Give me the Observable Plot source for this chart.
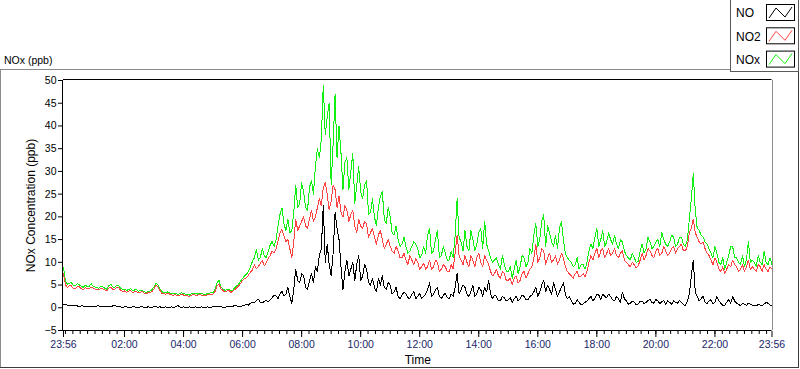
<!DOCTYPE html>
<html>
<head>
<meta charset="utf-8">
<script src="https://cdn.jsdelivr.net/npm/d3@7"></script>
<script src="https://cdn.jsdelivr.net/npm/@observablehq/plot@0.6"></script>
<style>
  html, body { margin: 0; padding: 0; background: #fff; }
  #wrap { position: relative; width: 800px; height: 369px; overflow: hidden; font-family: "Liberation Sans", Arial, sans-serif; }
  #bg, #chart { position: absolute; left: 0; top: 0; }
  #chart svg { display: block; }
</style>
</head>
<body>
<div id="wrap">
  <svg id="bg" width="800" height="369"></svg>
  <div id="chart"></div>
</div>
<script>
// ---------------- data ----------------
const chartTitle = "NOx (ppb)";
const yTitle = "NOx Concentration (ppb)";
const xTitle = "Time";
const seriesNames = ["NO", "NO2", "NOx"];
const seriesColors = ["#000000", "#ff4343", "#12f012"];

const startTime = "23:56";   // first sample (previous day)
const stepMinutes = 8;       // interval of each array; the "_b" arrays are read 4 min after the "_a" ones
const spanMinutes = 1440;

// NO (ppb)
const noA = [
  0.8, 0.6, 0.5, 0.5, 0.3, 0.4, 0.2, 0.3, 0.3, 0.4,
  0.2, 0.3, 0.3, 0.5, 0.2, 0.1, 0.2, 0.1, 0.2, 0.1,
  0.2, 0.1, 0.1, 0.2, 0.1, 0.1, 0.2, 0.1, 0.1, 0.5,
  0.1, 0.1, 0.2, 0.1, 0.1, 0.2, 0.1, 0.1, 0.2, 0.4,
  0.2, 0.1, 0.2, 0.3, 0.4, 0.3, 0.5, 0.6, 1.2, 1.6,
  1.2, 1.4, 1.3, 2.2, 2.6, 3.1, 2.6, 4.5, 1.0, 8.5,
  5.5, 7.0, 4.0, 7.5, 9.0, 11.5, 22.5, 14.0, 7.0, 21.0,
  15.0, 4.0, 10.5, 8.5, 6.0, 11.5, 7.0, 8.5, 5.0, 4.5,
  6.5, 7.0, 4.0, 5.0, 3.5, 2.5, 2.8, 3.0, 2.0, 3.5,
  2.5, 2.0, 3.0, 5.5, 3.0, 4.5, 2.0, 3.2, 2.0, 2.5,
  7.5, 4.0, 4.5, 2.5, 5.0, 3.0, 4.0, 4.5, 6.0, 2.0,
  2.5, 1.5, 2.2, 1.8, 1.2, 2.5, 2.0, 2.5, 1.8, 2.8,
  4.5, 3.5, 6.0, 5.0, 3.0, 4.0, 3.5, 5.5, 2.0, 1.5,
  1.0, 1.2, 0.8, 1.5, 2.5, 2.0, 2.8, 3.0, 2.2, 2.5,
  1.5, 2.0, 3.4, 1.5, 1.0, 1.2, 0.8, 1.5, 1.2, 1.8,
  1.0, 1.5, 1.3, 0.8, 1.2, 1.5, 1.0, 1.2, 0.5, 3.0,
  10.5, 2.5, 2.0, 1.2, 1.5, 0.8, 2.5, 1.0, 0.6, 1.8,
  2.5, 1.0, 0.5, 0.8, 1.0, 0.6, 0.4, 0.6, 0.8, 1.0, 0.5
];
const noB = [
  0.7, 0.5, 0.6, 0.4, 0.4, 0.3, 0.3, 0.2, 0.4, 0.3,
  0.3, 0.2, 0.4, 0.3, 0.2, 0.2, 0.1, 0.2, 0.1, 0.2,
  0.1, 0.2, 0.1, 0.2, 0.2, 0.1, 0.1, 0.2, 0.2, 0.2,
  0.2, 0.1, 0.1, 0.2, 0.1, 0.1, 0.2, 0.1, 0.3, 0.2,
  0.1, 0.2, 0.2, 0.5, 0.2, 0.4, 0.8, 1.0, 1.1, 1.9,
  1.1, 1.6, 1.8, 2.8, 2.0, 3.6, 3.0, 2.5, 4.0, 6.0,
  7.5, 4.5, 6.0, 5.5, 8.0, 13.0, 10.0, 9.5, 12.0, 17.5,
  9.0, 8.0, 7.0, 10.0, 9.5, 6.0, 9.5, 5.5, 6.5, 3.5,
  5.0, 4.5, 5.5, 3.0, 4.5, 2.0, 3.5, 2.2, 3.0, 2.0,
  3.2, 2.5, 4.0, 2.5, 4.0, 2.5, 2.8, 2.2, 3.0, 4.5,
  3.0, 5.0, 3.0, 3.5, 2.5, 4.5, 2.5, 3.5, 3.0, 2.8,
  1.5, 2.5, 1.5, 2.2, 2.0, 1.5, 2.8, 1.8, 2.5, 3.5,
  2.5, 5.0, 3.5, 4.0, 5.5, 2.5, 4.5, 3.0, 2.5, 0.8,
  1.8, 0.6, 1.2, 2.0, 1.5, 3.0, 1.8, 2.5, 3.0, 1.8,
  2.5, 1.2, 2.0, 0.8, 1.5, 0.7, 1.4, 0.9, 1.6, 1.2,
  1.8, 0.9, 1.6, 1.5, 0.8, 1.2, 1.6, 0.7, 1.5, 7.0,
  3.5, 1.5, 2.5, 0.9, 1.8, 1.2, 1.5, 0.5, 1.2, 1.0,
  1.5, 0.7, 0.9, 0.5, 0.8, 0.4, 0.7, 0.5, 1.2, 0.6
];

// NO2 (ppb)
const no2A = [
  7.5, 4.5, 4.8, 4.2, 4.6, 4.0, 4.3, 4.6, 4.1, 3.9,
  4.2, 3.7, 4.5, 4.0, 4.4, 3.6, 3.4, 3.8, 3.5, 3.3,
  3.6, 3.1, 3.4, 4.2, 4.6, 3.2, 3.0, 3.0, 2.8, 2.6,
  3.0, 2.7, 2.5, 2.9, 2.7, 2.8, 2.6, 2.9, 3.0, 4.8,
  4.2, 3.5, 3.8, 3.6, 4.4, 5.4, 6.4, 7.2, 8.3, 8.6,
  9.8, 9.2, 10.8, 12.5, 13.0, 16.5, 15.8, 15.0, 11.0, 19.5,
  18.0, 20.0, 17.5, 21.5, 20.0, 24.0, 26.5, 25.0, 23.5, 26.0,
  24.5, 20.0, 21.5, 20.5, 18.0, 19.5, 17.5, 18.5, 16.5, 15.5,
  16.0, 15.0, 14.0, 13.5, 12.0, 12.5, 11.0, 10.5, 11.5, 9.5,
  10.0, 9.0, 8.5, 10.5, 9.0, 10.0, 8.5, 9.0, 8.0, 8.5,
  16.0, 10.5, 11.5, 9.0, 10.5, 11.0, 10.0, 11.5, 9.5, 7.0,
  8.5, 6.5, 7.5, 6.0, 5.0, 7.0, 6.0, 8.0, 7.5, 9.0,
  14.0, 11.0, 12.5, 11.0, 10.0, 11.5, 10.5, 11.0, 8.0, 7.0,
  7.5, 6.8, 7.5, 8.0, 11.5, 12.0, 11.0, 13.0, 12.0, 11.5,
  13.0, 11.0, 12.5, 10.0, 9.0, 9.5, 9.2, 12.0, 11.5, 12.5,
  11.0, 13.0, 12.0, 12.5, 12.0, 13.5, 13.0, 14.0, 12.5, 16.5,
  19.5, 15.5, 14.0, 13.0, 11.5, 9.5, 10.0, 8.0, 7.5, 9.5,
  10.5, 9.0, 8.5, 8.0, 10.5, 9.0, 8.0, 9.0, 9.5, 8.0, 8.5
];
const no2B = [
  5.0, 4.9, 4.3, 4.7, 4.2, 4.4, 4.1, 4.3, 4.0, 4.3,
  3.9, 4.3, 4.1, 4.5, 3.9, 3.7, 3.6, 3.4, 3.6, 3.4,
  3.2, 3.3, 3.6, 5.0, 3.8, 3.1, 3.2, 2.8, 2.9, 2.8,
  2.8, 2.6, 2.8, 2.8, 2.9, 2.7, 2.8, 3.0, 3.6, 5.2,
  3.8, 3.7, 3.4, 4.0, 4.8, 6.0, 6.6, 7.8, 9.5, 9.0,
  10.4, 9.9, 11.5, 12.0, 14.8, 17.2, 14.5, 13.0, 14.5, 17.0,
  19.0, 18.0, 19.5, 19.0, 22.0, 22.5, 27.5, 21.5, 27.0, 22.0,
  21.0, 22.5, 19.0, 21.5, 16.5, 18.0, 19.0, 15.5, 17.5, 14.0,
  17.0, 13.0, 15.0, 12.5, 13.5, 11.0, 12.0, 9.5, 10.5, 10.8,
  8.5, 9.8, 9.0, 8.5, 10.5, 8.0, 9.5, 8.0, 9.5, 12.0,
  11.5, 9.5, 10.0, 11.5, 9.0, 12.0, 9.0, 10.5, 8.0, 7.5,
  7.0, 8.0, 6.0, 6.5, 6.5, 5.5, 7.5, 6.5, 8.5, 11.0,
  10.0, 13.0, 9.5, 12.0, 10.5, 9.5, 12.0, 9.0, 7.5, 6.5,
  8.0, 7.0, 6.8, 10.0, 10.5, 13.0, 12.5, 11.0, 13.0, 12.0,
  11.5, 12.0, 10.5, 9.5, 10.0, 8.8, 10.5, 10.5, 13.0, 11.5,
  12.5, 11.5, 13.5, 11.5, 13.0, 12.0, 13.5, 12.5, 13.5, 17.5,
  16.5, 14.5, 14.5, 12.0, 10.5, 11.0, 8.5, 9.0, 8.5, 9.0,
  9.5, 8.0, 9.5, 9.0, 8.5, 8.5, 9.5, 8.0, 8.5, 9.0
];

// NOx (ppb)
const noxA = [
  8.8, 5.2, 5.6, 4.8, 5.1, 4.5, 4.7, 5.3, 4.6, 4.3,
  4.6, 4.1, 5.2, 4.5, 4.9, 4.0, 3.8, 4.2, 3.9, 3.6,
  3.9, 3.4, 3.7, 4.6, 5.0, 3.5, 3.3, 3.3, 3.1, 2.9,
  3.3, 3.0, 2.8, 3.2, 3.0, 3.1, 2.9, 3.2, 3.3, 5.5,
  4.6, 3.8, 4.1, 3.9, 4.8, 5.9, 7.0, 8.0, 10.2, 12.8,
  11.0, 11.5, 12.3, 14.6, 15.0, 20.5, 18.5, 19.5, 17.0, 27.0,
  23.0, 25.5, 21.5, 28.0, 31.0, 33.0, 49.0, 42.0, 27.0, 47.0,
  40.0, 26.0, 33.0, 30.0, 23.0, 31.0, 24.0, 28.0, 21.0, 20.0,
  22.0, 25.5, 18.5, 20.0, 16.0, 15.0, 14.0, 13.5, 12.5, 14.5,
  13.0, 11.5, 12.0, 17.5, 12.5, 17.0, 11.5, 12.0, 10.5, 11.0,
  24.0, 14.5, 17.0, 12.5, 15.0, 14.0, 17.5, 19.0, 12.5, 10.0,
  11.0, 8.5, 9.5, 8.0, 6.5, 10.5, 9.0, 11.0, 10.0, 12.0,
  18.5, 15.0, 20.5, 18.0, 14.5, 16.0, 17.5, 15.0, 11.0, 10.0,
  9.5, 8.5, 9.5, 10.0, 14.0, 15.5, 13.5, 17.0, 14.5, 15.0,
  16.0, 13.0, 14.5, 11.5, 10.5, 11.0, 10.2, 14.0, 13.0, 14.5,
  13.5, 15.0, 16.5, 14.0, 14.5, 15.5, 14.0, 15.5, 13.5, 19.5,
  29.5, 17.5, 16.0, 14.5, 13.0, 11.0, 12.0, 9.5, 8.5, 11.5,
  13.5, 11.0, 9.5, 9.0, 14.5, 10.5, 9.0, 10.0, 12.5, 9.5, 9.5
];
const noxB = [
  5.8, 5.4, 4.8, 5.3, 4.7, 5.0, 4.6, 4.8, 4.4, 4.8,
  4.3, 4.8, 4.6, 5.0, 4.3, 4.1, 4.0, 3.8, 4.0, 3.8,
  3.5, 3.6, 4.0, 5.4, 4.1, 3.4, 3.5, 3.1, 3.2, 3.1,
  3.1, 2.9, 3.1, 3.1, 3.2, 3.0, 3.1, 3.3, 4.0, 6.0,
  4.2, 4.0, 3.7, 4.4, 5.2, 6.5, 7.4, 9.0, 11.0, 10.5,
  13.0, 11.0, 13.8, 13.5, 18.0, 22.0, 17.0, 16.5, 21.0, 22.0,
  27.5, 22.0, 26.5, 25.0, 35.0, 37.0, 38.0, 45.0, 36.0, 33.0,
  34.0, 32.0, 26.0, 34.0, 27.0, 25.5, 27.0, 20.5, 24.0, 18.0,
  24.5, 19.5, 22.0, 16.5, 18.0, 13.5, 15.5, 12.0, 13.5, 14.0,
  11.0, 13.5, 16.0, 12.0, 15.0, 11.0, 13.5, 10.5, 12.5, 16.0,
  15.5, 12.5, 13.5, 17.0, 12.5, 16.5, 13.0, 14.0, 11.0, 10.5,
  9.5, 11.5, 8.0, 9.0, 8.5, 7.5, 11.5, 9.0, 13.0, 16.0,
  13.5, 19.0, 13.5, 16.5, 13.5, 13.0, 19.0, 12.0, 10.5, 9.0,
  11.0, 9.5, 8.5, 12.5, 13.0, 17.5, 15.0, 13.5, 16.5, 14.0,
  14.0, 15.0, 12.5, 11.0, 12.0, 10.0, 12.5, 12.0, 15.5, 13.0,
  14.5, 13.5, 15.0, 13.5, 16.0, 13.5, 15.5, 14.0, 15.0, 24.0,
  21.5, 17.0, 15.5, 14.0, 12.0, 13.5, 10.0, 11.0, 10.0, 13.5,
  11.0, 10.0, 11.5, 10.5, 10.0, 10.0, 11.5, 9.5, 10.0, 11.0
];

const yTickValues = [-5, 0, 5, 10, 15, 20, 25, 30, 35, 40, 45, 50];
const majorTickLabels = ["23:56", "02:00", "04:00", "06:00", "08:00", "10:00", "12:00",
                         "14:00", "16:00", "18:00", "20:00", "22:00", "23:56"];
const minorTickMinutes = 15;

// ---------------- build ----------------
const [sh, sm] = startTime.split(":").map(Number);
const t0 = Date.UTC(2000, 0, 1, sh, sm);
const t1 = t0 + spanMinutes * 60000;
const half = stepMinutes / 2;
const toRows = (a, b) => {
  const rows = [];
  a.forEach((v, k) => {
    rows.push({t: new Date(t0 + k * stepMinutes * 60000), v});
    if (k < b.length) rows.push({t: new Date(t0 + (k * stepMinutes + half) * 60000), v: b[k]});
  });
  return rows;
};
const noRows = toRows(noA, noB), no2Rows = toRows(no2A, no2B), noxRows = toRows(noxA, noxB);

const majorTicks = majorTickLabels.map((lab, i) => {
  if (i === 0) return new Date(t0);
  if (i === majorTickLabels.length - 1) return new Date(t1);
  const [h, m] = lab.split(":").map(Number);
  return new Date(Date.UTC(2000, 0, 2, h, m));
});
const minorTicks = [];
for (let t = Date.UTC(2000, 0, 2, 0, 0); t < t1; t += minorTickMinutes * 60000) minorTicks.push(new Date(t));
const labelMap = new Map(majorTicks.map((d, i) => [+d, majorTickLabels[i]]));

const chart = Plot.plot({
  width: 800,
  height: 369,
  marginLeft: 63,
  marginRight: 28.5,
  marginTop: 80,
  marginBottom: 39,
  style: {background: "transparent", fontFamily: "'Liberation Sans', Arial, sans-serif", fontSize: "10.5px", color: "#000", overflow: "visible"},
  x: {type: "utc", domain: [new Date(t0), new Date(t1)]},
  y: {domain: [-5, 50]},
  marks: [
    Plot.line(noxRows, {x: "t", y: "v", stroke: seriesColors[2], strokeWidth: 1, shapeRendering: "crispEdges"}),
    Plot.line(no2Rows, {x: "t", y: "v", stroke: seriesColors[1], strokeWidth: 1, shapeRendering: "crispEdges"}),
    Plot.line(noRows, {x: "t", y: "v", stroke: seriesColors[0], strokeWidth: 1, shapeRendering: "crispEdges"}),
    Plot.ruleY([50], {dy: -1, stroke: "#000"}),
    Plot.ruleY([-5], {stroke: "#000"}),
    Plot.ruleX([new Date(t0)], {dx: -1, stroke: "#000"}),
    Plot.ruleX([new Date(t1)], {dx: 0.5, stroke: "#8c8c8c"}),
    Plot.axisY({ticks: yTickValues, tickSize: 5, tickPadding: 2, stroke: "#000", fontSize: 10.5,
      label: yTitle, labelAnchor: "center", labelOffset: 37, labelArrow: "none"}),
    Plot.axisX({ticks: minorTicks, tickSize: 3, dy: 1, tickFormat: () => "", label: null}),
    Plot.axisX({ticks: majorTicks, tickSize: 6, dy: 1, tickPadding: 3, fill: "#1a276a",
      tickFormat: d => labelMap.get(+d) ?? "", label: null}),
    Plot.axisX({ticks: [], label: xTitle, labelAnchor: "center", labelOffset: 33, labelArrow: "none", fontSize: 12, dx: -6})
  ]
});
// y title at 12px
d3.select(chart).selectAll("g[aria-label='y-axis label'] text").attr("font-size", 12);
document.getElementById("chart").appendChild(chart);

// ---------------- frame, title, legend ----------------
const bg = d3.select("#bg");
bg.append("line").attr("x1", 0).attr("x2", 730).attr("y1", 69.5).attr("y2", 69.5).attr("stroke", "#8c8c8c");
bg.append("line").attr("x1", 0.5).attr("x2", 0.5).attr("y1", 69).attr("y2", 368).attr("stroke", "#8c8c8c");
bg.append("line").attr("x1", 0).attr("x2", 799).attr("y1", 367.5).attr("y2", 367.5).attr("stroke", "#3c3c3c");
bg.append("line").attr("x1", 798.5).attr("x2", 798.5).attr("y1", 72).attr("y2", 368).attr("stroke", "#3c3c3c");
bg.append("text").attr("x", 4).attr("y", 63.5).attr("font-size", 10.5).attr("fill", "#000")
  .attr("font-family", "'Liberation Sans', Arial, sans-serif").text(chartTitle);
const lg = bg.append("g");
lg.append("rect").attr("x", 730.5).attr("y", -1).attr("width", 68).attr("height", 72.5)
  .attr("fill", "#fff").attr("stroke", "#5a5a5a");
seriesNames.forEach((name, i) => {
  const top = 4 + i * 23.3;
  lg.append("text").attr("x", 736).attr("y", 17.3 + i * 23.2).attr("font-size", 12)
    .attr("font-family", "'Liberation Sans', Arial, sans-serif").attr("fill", "#000").text(name);
  lg.append("rect").attr("x", 766.5).attr("y", top + 0.5).attr("width", 28).attr("height", 16)
    .attr("fill", "#fff").attr("stroke", "#000");
  const px = [769, 776, 785, 792], py = [top + 14, top + 4, top + 13, top + 3];
  lg.append("polyline").attr("points", px.map((x, k) => x + "," + py[k]).join(" "))
    .attr("fill", "none").attr("stroke", seriesColors[i]).attr("stroke-width", 1);
});
</script>
</body>
</html>
